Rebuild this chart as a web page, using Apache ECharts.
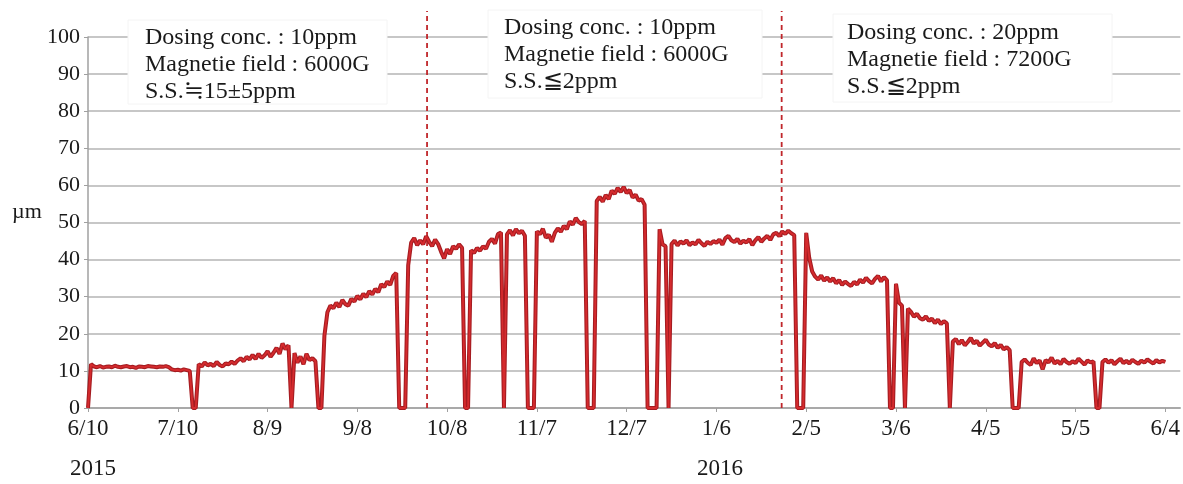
<!DOCTYPE html>
<html><head><meta charset="utf-8">
<script src="https://cdn.jsdelivr.net/npm/echarts@6/dist/echarts.min.js"></script>
<style>html,body{margin:0;padding:0;background:#fff}#c{width:1183px;height:484px}</style>
</head><body><div id="c"></div>
<script>
// tick labels (every 30 days from 2015-06-10)
const xTickLabels = ['6/10','7/10','8/9','9/8','10/8','11/7','12/7','1/6','2/5','3/6','4/5','5/5','6/4'];
const yearLabels = ['2015','2016'];
// daily readings (µm), one array per 30-day period starting at each tick date
const p0610 = [0,11.8,11.2,11.0,11.3,10.9,11.1,11.2,11.0,11.4,11.1,11.0,11.2,11.3,11.0,11.1,10.8,11.2,11.1,11.0,11.3,11.2,11.1,11.0,11.2,11.1,11.3,11.0,10.4,10.2];
const p0710 = [10.3,10.1,10.4,10.2,10.0,0,0,11.8,11.2,12.3,11.5,11.9,11.3,12.4,11.6,11.2,12.0,11.8,12.5,11.9,12.8,13.4,12.6,13.8,13.1,14.3,13.2,14.6,13.5,14.2];
const p0809 = [15.3,13.8,14.9,16.2,14.6,17.4,15.8,16.9,0,14.8,12.2,13.9,11.8,14.6,12.9,13.4,12.6,0,0,19.5,25.8,27.6,26.9,28.4,27.2,29.1,28.0,27.6,29.4,28.7];
const p0908 = [30.2,29.3,30.8,29.9,31.5,30.6,32.1,31.2,33.4,32.6,34.1,33.2,35.6,36.4,0,0,0,38.5,44.6,45.8,43.9,45.2,44.1,46.3,44.8,43.6,45.4,44.2,42.1,40.3];
const p1008 = [42.8,41.5,43.6,42.9,44.1,43.2,0,0,42.5,41.8,43.1,42.4,43.6,42.9,44.8,45.6,44.3,46.9,47.3,0,46.8,47.9,46.5,48.2,47.1,47.8,46.4,0,0,0];
const p1107 = [47.6,46.8,48.3,45.9,46.7,44.8,47.2,48.4,47.5,49.1,48.2,50.3,49.4,51.2,50.1,49.6,50.4,0,0,0,55.8,56.9,55.6,57.4,56.3,58.6,57.7,59.3,58.2,59.6];
const p1207 = [57.9,58.8,56.7,57.5,55.9,56.3,54.8,0,0,0,0,48.2,44.1,43.6,0,44.2,45.1,43.8,44.9,44.3,45.2,43.9,44.6,44.1,45.3,44.4,43.7,44.8,44.2,45.0];
const p0106 = [44.5,45.4,44.0,45.8,46.4,45.2,44.7,45.6,44.3,45.1,44.6,45.5,43.9,45.2,46.1,44.8,45.7,46.4,45.3,46.8,47.2,46.3,47.6,46.9,47.8,47.1,46.6,0,0,0];
const p0205 = [47.2,40.5,36.8,35.4,34.6,35.7,34.3,35.2,34.1,35.0,33.6,34.5,33.2,34.1,33.4,32.9,34.0,33.3,34.6,33.8,35.1,34.2,33.6,34.8,35.6,34.1,35.3,34.4,0,0];
const p0306 = [33.5,28.4,27.6,0,26.8,25.9,24.6,25.4,24.2,23.8,24.7,23.5,24.1,22.9,23.8,22.6,23.4,22.8,0,17.9,18.6,17.2,18.3,16.9,17.8,18.9,17.4,18.1,16.8,17.6];
const p0405 = [18.4,17.1,16.6,17.5,16.2,17.0,15.8,16.4,15.6,0,0,0,12.4,13.1,12.2,11.6,13.4,12.1,12.8,10.4,12.9,12.3,13.6,12.0,12.7,11.8,13.2,12.4,11.9,12.6];
const p0505 = [12.1,13.3,12.5,11.7,12.8,12.3,12.6,0,0,12.4,13.1,12.2,12.9,11.8,12.6,13.3,12.1,12.7,12.0,13.0,12.4,11.9,12.8,12.2,13.1,12.5,12.0,12.9,12.3,12.7,12.4];
// days (from 6/10/2015) where dosing conditions changed
const changeDays = [113.3, 231.8];
// annotation texts
const box1 = ['Dosing conc. : 10ppm','Magnetie field : 6000G','S.S.≒15±5ppm'];
const box2 = ['Dosing conc. : 10ppm','Magnetie field : 6000G','S.S.≦2ppm'];
const box3 = ['Dosing conc. : 20ppm','Magnetie field : 7200G','S.S.≦2ppm'];

const values = [].concat(p0610,p0710,p0809,p0908,p1008,p1107,p1207,p0106,p0205,p0306,p0405,p0505);
const lineData = values.map((v,i)=>[i,v]);
const tickVals = xTickLabels.map((_,i)=>i*30);
const FONT = '"Liberation Serif","Times New Roman","DejaVu Serif",serif';
const RED = '#c4262b';

const chart = echarts.init(document.getElementById('c'), null, {renderer:'canvas'});

function boxGraphic(lines, x, y, w, h, tx, ty){
  return [
    {type:'rect', shape:{x:x,y:y,width:w,height:h}, style:{fill:'#fff', stroke:'#f4f4f4', lineWidth:1}, z:100},
    {type:'text', x:tx, y:ty, style:{text:lines.join('\n'), font:'24px '+FONT, fill:'#1a1a1a', lineHeight:27, textVerticalAlign:'top'}, z:101}
  ];
}

const series = [{
  type:'line', data:lineData, showSymbol:false, symbol:'none',
  lineStyle:{color:'#a51c21', width:4}, animation:false, z:3
},{
  type:'line', data:lineData, showSymbol:false, symbol:'none',
  lineStyle:{color:'#d52b2e', width:1.8}, animation:false, z:4
}];
changeDays.forEach(d=>{
  series.push({type:'line', data:[[d,0],[d,107]], showSymbol:false, symbol:'none', clip:false,
    lineStyle:{color:'#c0262b', width:1.8, type:[5,4]}, animation:false, z:2});
});

chart.setOption({
  animation:false,
  grid:{left:88, right:0, top:37, bottom:76},
  xAxis:{type:'value', min:0, max:365, interval:30,
    axisLine:{show:true, lineStyle:{color:'#a0a0a0', width:1.5}},
    axisTick:{show:true, customValues:tickVals, length:4, lineStyle:{color:'#a0a0a0'}},
    axisLabel:{customValues:tickVals, margin:9, fontSize:23, fontFamily:FONT, color:'#1a1a1a',
      formatter:(v)=>xTickLabels[Math.round(v/30)] || ''},
    splitLine:{show:false}},
  yAxis:{type:'value', min:0, max:100, interval:10,
    axisLine:{show:true, lineStyle:{color:'#a0a0a0', width:1.5}},
    axisTick:{show:true, length:4, lineStyle:{color:'#a0a0a0'}},
    axisLabel:{margin:8, fontSize:22, fontFamily:FONT, color:'#1a1a1a'},
    splitLine:{show:true, lineStyle:{color:'#b4b4b4', width:1.5}}},
  series:series,
  graphic:[].concat(
    boxGraphic(box1, 128, 20, 259, 84, 145, 24),
    boxGraphic(box2, 488, 10, 274, 88, 504, 14),
    boxGraphic(box3, 833, 14, 279, 88, 847, 19),
    [
      {type:'text', x:12, y:201, style:{text:'µm', font:'22px '+FONT, fill:'#1a1a1a'}},
      {type:'text', x:70, y:457, style:{text:yearLabels[0], font:'23px '+FONT, fill:'#1a1a1a'}},
      {type:'text', x:697, y:457, style:{text:yearLabels[1], font:'23px '+FONT, fill:'#1a1a1a'}}
    ]
  )
});
</script></body></html>
